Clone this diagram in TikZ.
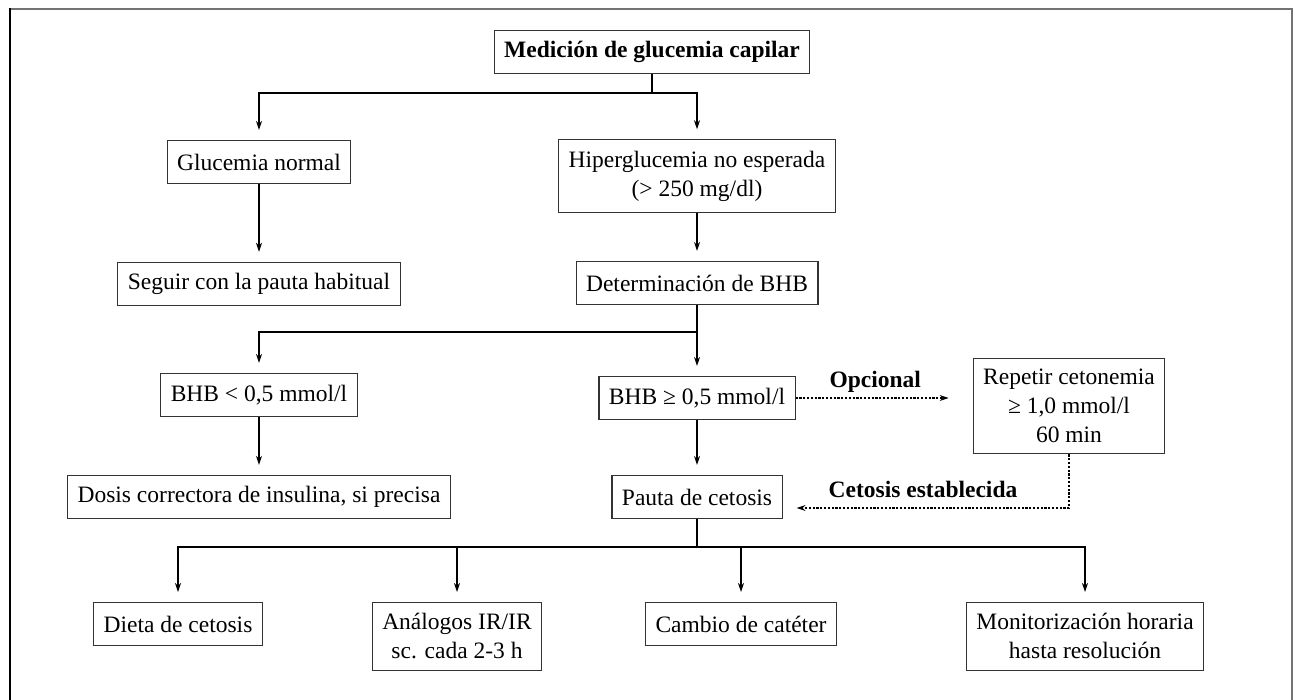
\documentclass[tikz,border=0pt]{standalone}
\usepackage{fontspec}
\setmainfont{Liberation Serif}
\usetikzlibrary{arrows.meta}
\begin{document}
\begin{tikzpicture}[x=1pt,y=-1pt,
  box/.style={draw=black!80, line width=1.1pt, fill=white, align=center,
    inner xsep=10pt, inner ysep=11pt, minimum height=43pt,
    font=\fontsize{23.5}{29}\selectfont},
  arr/.style={line width=1.1pt, -{Stealth[length=9pt,width=6pt]}, shorten >=10pt},
  conn/.style={line width=1.1pt},
  dotarr/.style={line width=1.1pt, dash pattern=on 2.2pt off 1.6pt, -{Stealth[length=9pt,width=6pt]}},
  lbl/.style={font=\fontsize{23.5}{29}\selectfont\bfseries}]
\useasboundingbox (0,0) rectangle (1295,699);
% frame
\draw[black!55, line width=2pt] (10,9) -- (1292,9) -- (1292,702);
\draw[black, line width=1.5pt] (10,8) -- (10,702);
% nodes
\node[box, font=\fontsize{23.5}{29}\selectfont\bfseries] (med) at (652,52) {Medición de glucemia capilar};
\node[box] (gn) at (259,162) {Glucemia normal};
\node[box] (hg) at (697,176) {Hiperglucemia no esperada\\(> 250 mg/dl)};
\node[box] (seg) at (259,284) {Seguir con la pauta habitual};
\node[box] (det) at (697,283) {Determinación de BHB};
\node[box] (bl) at (259,395) {BHB < 0,5 mmol/l};
\node[box] (bh) at (697,398) {BHB ≥ 0,5 mmol/l};
\node[box] (rep) at (1069,406) {Repetir cetonemia\\≥ 1,0 mmol/l\\60 min};
\node[box] (dos) at (259,497) {Dosis correctora de insulina, si precisa};
\node[box] (pau) at (697,497) {Pauta de cetosis};
\node[box, anchor=north] (die) at (178,602) {Dieta de cetosis};
\node[box, anchor=north] (ana) at (457,602) {Análogos IR/IR\\sc. cada 2-3 h};
\node[box, anchor=north] (cam) at (741,602) {Cambio de catéter};
\node[box, anchor=north] (mon) at (1085,602) {Monitorización horaria\\hasta resolución};
% junctions
\coordinate (j1) at (652,93);
\coordinate (j2) at (697,332);
\coordinate (j3) at (697,547);
\draw[conn] (med.south) -- (j1);
\draw[arr] (j1) -| (gn.north);
\draw[arr] (j1) -| (hg.north);
\draw[arr] (gn) -- (seg);
\draw[arr] (hg) -- (det);
\draw[conn] (det.south) -- (j2);
\draw[arr] (j2) -| (bl.north);
\draw[arr] (j2) -- (bh.north);
\draw[arr] (bl) -- (dos);
\draw[arr] (bh) -- (pau);
\draw[conn] (pau.south) -- (j3);
\draw[arr] (j3) -| (die.north);
\draw[arr] (j3) -| (ana.north);
\draw[arr] (j3) -| (cam.north);
\draw[arr] (j3) -| (mon.north);
% dashed
\coordinate (o1) at (rep.west |- bh.east);
\draw[dotarr, shorten >=24pt] (bh.east) -- node[lbl, above=2pt, pos=0.45] (op) {Opcional} (o1);
\coordinate (c1) at (rep.south |- 0,508);
\coordinate (c2) at (pau.east |- c1);
\draw[dotarr, shorten >=14pt] (rep.south) -- (c1) -- (c2);
\node[lbl] (ce) at (923,489) {Cetosis establecida};
\end{tikzpicture}
\end{document}
